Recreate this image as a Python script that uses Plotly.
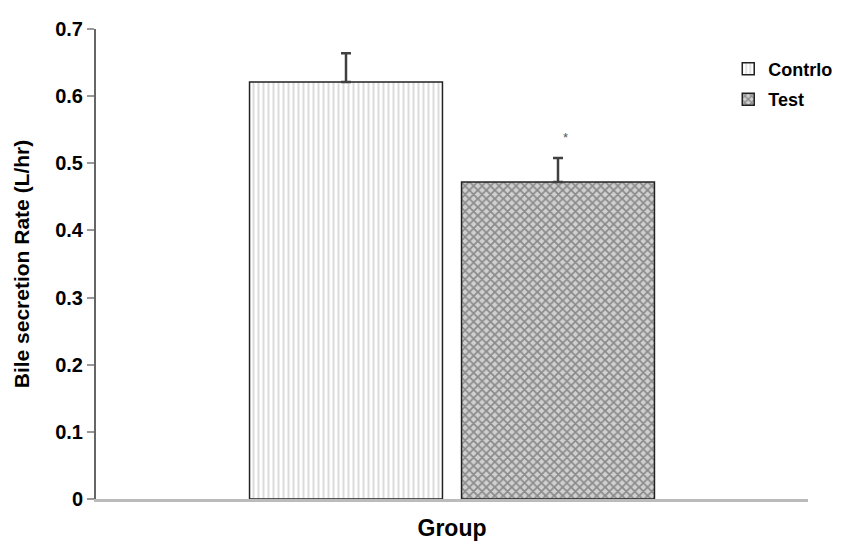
import plotly.graph_objects as go

# Datos del gráfico
groups = ["Contrlo", "Test"]
category = ["Group"]
rates = [0.621, 0.472]
errors = [0.043, 0.036]
star_value = 0.538
y_ticks = [0, 0.1, 0.2, 0.3, 0.4, 0.5, 0.6, 0.7]

font = "Liberation Sans, Arial, sans-serif"

fig = go.Figure()

fig.add_trace(go.Bar(
    name=groups[0],
    legendgroup="c",
    x=category,
    y=[rates[0]],
    error_y=dict(type="data", array=[errors[0]], arrayminus=[0], symmetric=False,
                 color="#404040", thickness=2.5, width=5),
    marker=dict(color="white", line=dict(color="#222222", width=1.5),
                pattern=dict(shape="|", fgcolor="#b8b8b8", size=5, solidity=0.4)),
))

fig.add_trace(go.Bar(
    name=groups[1],
    legendgroup="t",
    x=category,
    y=[rates[1]],
    error_y=dict(type="data", array=[errors[1]], arrayminus=[0], symmetric=False,
                 color="#404040", thickness=2.5, width=5),
    marker=dict(color="#d0d0d0", line=dict(color="#222222", width=1.5),
                pattern=dict(shape="x", fgcolor="#444444", size=6, solidity=0.5)),
))

# Asterisco de significancia sobre Test
fig.add_annotation(x=category[0], y=star_value, xshift=113, text="*", showarrow=False,
                   font=dict(family=font, size=13, color="#555555"))

fig.update_layout(
    width=833,
    height=533,
    margin=dict(l=88, r=33, t=21, b=42, autoexpand=False),
    paper_bgcolor="white",
    plot_bgcolor="white",
    barmode="group",
    bargap=0.4045,
    bargroupgap=0.09,
    font=dict(family=font, color="black"),
    legend=dict(x=0.888, y=0.954, xanchor="left", yanchor="top",
                font=dict(family=font, size=18, color="black", weight="bold"),
                traceorder="grouped",
                bgcolor="rgba(0,0,0,0)", itemwidth=30, tracegroupgap=4),
    xaxis=dict(
        showticklabels=False,
        showline=True, linecolor="#bbbbbb", linewidth=3,
        ticks="", showgrid=False, zeroline=False,
        title=dict(text="<b>Group</b>", font=dict(family=font, size=23), standoff=20),
    ),
    yaxis=dict(
        range=[0, 0.7],
        tickvals=y_ticks,
        ticktext=[f"{v:g}" for v in y_ticks],
        tickfont=dict(family=font, size=20, color="black", weight="bold"),
        showline=True, linecolor="#666666", linewidth=2,
        ticks="outside", ticklen=7, tickcolor="#999999", tickwidth=2,
        showgrid=False, zeroline=False,
        title=dict(text="<b>Bile secretion Rate (L/hr)</b>", font=dict(family=font, size=21), standoff=20),
    ),
)

fig.write_html("out.html")
